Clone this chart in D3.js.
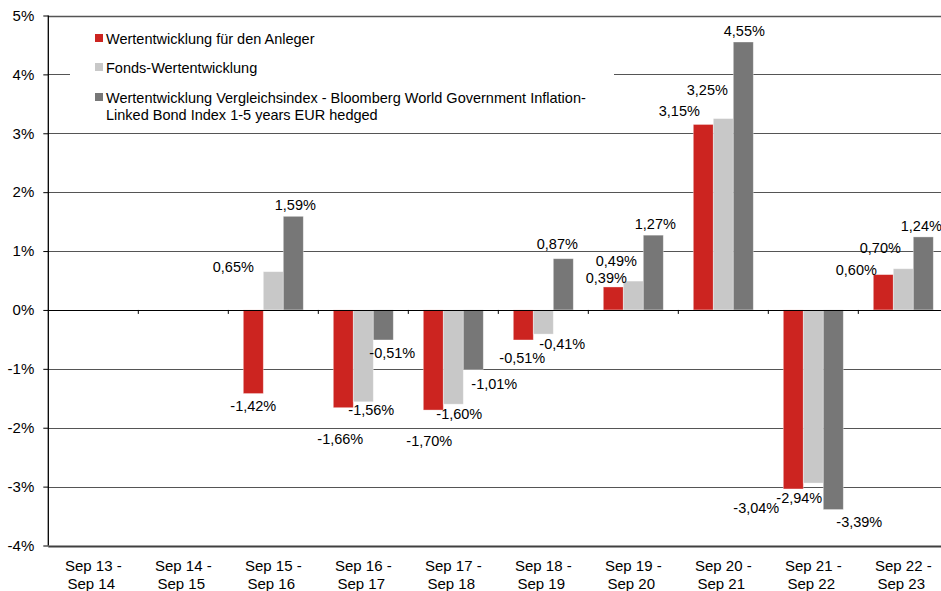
<!DOCTYPE html>
<html lang="de">
<head>
    <meta charset="UTF-8">
    <title>Wertentwicklung</title>
    <script src="https://cdn.jsdelivr.net/npm/d3@7"></script>
    <style>
        body { margin: 0; background: #fff; }
        svg text { font-family: "Liberation Sans", Arial, sans-serif; fill: #000; }
    </style>
</head>
<body>
    <svg width="941" height="591" id="mainsvg"></svg>
    <script>
        // data
        const categories = ['Sep 13 - Sep 14', 'Sep 14 - Sep 15', 'Sep 15 - Sep 16', 'Sep 16 - Sep 17', 'Sep 17 - Sep 18',
            'Sep 18 - Sep 19', 'Sep 19 - Sep 20', 'Sep 20 - Sep 21', 'Sep 21 - Sep 22', 'Sep 22 - Sep 23']
        const seriesNames = ['Wertentwicklung für den Anleger', 'Fonds-Wertentwicklung',
            'Wertentwicklung Vergleichsindex - Bloomberg World Government Inflation-|Linked Bond Index 1-5 years EUR hedged']
        const anlegerValues = [null, null, -1.42, -1.66, -1.70, -0.51, 0.39, 3.15, -3.04, 0.60]
        const fondsValues = [null, null, 0.65, -1.56, -1.60, -0.41, 0.49, 3.25, -2.94, 0.70]
        const indexValues = [null, null, 1.59, -0.51, -1.01, 0.87, 1.27, 4.55, -3.39, 1.24]
        const yTicks = [-4, -3, -2, -1, 0, 1, 2, 3, 4, 5]

        // label nudges [dx, dy] in px, like the original layout
        const labelNudge = [
            [null, null, [0, 17], [-3, 36], [-4, 36], [-1, 23], [-7, -4], [-24, -8], [-37, 24], [-27, 0]],
            [null, null, [-40, 0], [8, 13], [6, 15], [19, 15], [-17, -15], [-16, -24], [-14, 20], [-23, -16]],
            [null, null, [2, -6], [9, 18], [21, 20], [-6, -10], [2, -6], [1, -6], [26, 17], [-2, -6]]
        ]

        const colors = ['#cc2420', '#c8c8c8', '#777777']
        const seriesValues = [anlegerValues, fondsValues, indexValues]

        const svg = d3.select('#mainsvg')
        const width = +svg.attr('width')

        const x = d3.scaleBand().domain(categories).range([48.3, 948.3])
        const xSub = d3.scaleBand().domain([0, 1, 2]).range([15, 75])
        const y = d3.scaleLinear().domain([-4, 5]).range([545.5, 15.5])

        const deFormat = d3.formatLocale({decimal: ',', thousands: '.', grouping: [3], currency: ['', '€'], minus: '-'}).format('.2f')

        // gridlines
        svg.append('g').selectAll('line')
            .data(yTicks.filter(d => d !== 0))
            .join('line')
            .attr('x1', 48.3).attr('x2', width)
            .attr('y1', d => Math.round(y(d)) + 0.5).attr('y2', d => Math.round(y(d)) + 0.5)
            .attr('stroke', d => d === -4 ? '#404040' : '#555')
            .attr('stroke-width', d => d === -4 ? 2.2 : (d === 5 ? 1.5 : 1.2))

        // legend background hides the 4% gridline
        const legend = svg.append('g')
        legend.append('rect').attr('x', 70).attr('y', 24).attr('width', 544).attr('height', 104).attr('fill', '#fff')
        const legendRows = [44, 73, 103]
        seriesNames.forEach((name, i) => {
            legend.append('rect')
                .attr('x', 95).attr('y', legendRows[i] - 10)
                .attr('width', 8).attr('height', 8)
                .attr('fill', colors[i])
            const t = legend.append('text').attr('x', 106).attr('y', legendRows[i]).attr('font-size', '14.5px')
            name.split('|').forEach((line, k) => {
                t.append('tspan').attr('x', 106).attr('dy', k === 0 ? 0 : 16.5).text(line)
            })
        })

        // bars
        const g = svg.append('g')
        seriesValues.forEach((vals, s) => {
            categories.forEach((c, i) => {
                const v = vals[i]
                if (v === null) return
                g.append('rect')
                    .attr('x', x(c) + xSub(s))
                    .attr('width', xSub.bandwidth())
                    .attr('y', y(Math.max(0, v)))
                    .attr('height', Math.abs(y(v) - y(0)))
                    .attr('fill', colors[s])
                    .attr('stroke', '#fff').attr('stroke-opacity', 0.45).attr('stroke-width', 0.8)
            })
        })

        // zero line with category ticks
        svg.append('line')
            .attr('x1', 48.3).attr('x2', width)
            .attr('y1', Math.round(y(0)) + 0.5).attr('y2', Math.round(y(0)) + 0.5)
            .attr('stroke', '#000').attr('stroke-width', 1.2)
        svg.append('g').selectAll('line')
            .data(categories.slice(1))
            .join('line')
            .attr('x1', d => x(d)).attr('x2', d => x(d))
            .attr('y1', y(0)).attr('y2', y(0) + 4)
            .attr('stroke', '#000')

        // y axis
        const yAxis = d3.axisLeft(y).tickValues(yTicks).tickSize(5).tickPadding(9).tickFormat(d => d + '%')
        const ya = svg.append('g').attr('transform', 'translate(48.3,0)').call(yAxis)
        ya.select('.domain').attr('stroke', '#000').attr('stroke-width', 1.3).attr('d', `M0,${y(5)}V${y(-4)}`)
        ya.selectAll('.tick line').attr('stroke', '#000')
        ya.selectAll('.tick text').attr('font-size', '15px').attr('fill', '#000')
            .style('font-family', '"Liberation Sans", Arial, sans-serif')

        // x labels, two lines
        categories.forEach(c => {
            const parts = c.split(' - ')
            const t = svg.append('text')
                .attr('text-anchor', 'middle')
                .attr('font-size', '15px')
                .attr('x', x(c) + x.bandwidth() / 2)
                .attr('y', 570.5)
            t.append('tspan').attr('x', x(c) + x.bandwidth() / 2).text(parts[0] + ' -')
            t.append('tspan').attr('x', x(c) + x.bandwidth() / 2 - 2).attr('dy', 18).text(parts[1])
        })

        // data labels
        seriesValues.forEach((vals, s) => {
            categories.forEach((c, i) => {
                const v = vals[i]
                if (v === null) return
                const nudge = labelNudge[s][i]
                svg.append('text')
                    .attr('text-anchor', 'middle')
                    .attr('font-size', '14.5px')
                    .attr('x', x(c) + xSub(s) + xSub.bandwidth() / 2 + nudge[0])
                    .attr('y', y(v) + nudge[1])
                    .text(deFormat(v) + '%')
            })
        })
    </script>
</body>
</html>
